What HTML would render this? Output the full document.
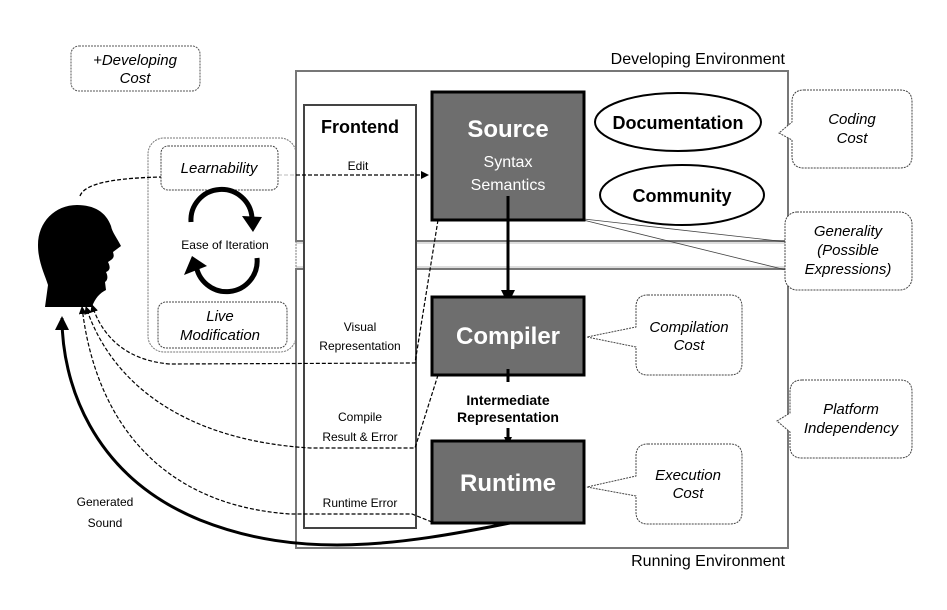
<!DOCTYPE html>
<html><head><meta charset="utf-8"><style>
body{margin:0;background:#fff}
svg{display:block}
text{font-family:"Liberation Sans",sans-serif}
</style></head><body>
<svg width="947" height="610" viewBox="0 0 947 610" xmlns="http://www.w3.org/2000/svg">
<defs>
<marker id="ah" markerWidth="8" markerHeight="8" refX="7" refY="4" orient="auto" markerUnits="userSpaceOnUse"><path d="M0,0 L8,4 L0,8z" fill="#000"/></marker>
<marker id="ahb" markerWidth="14" markerHeight="14" refX="12" refY="7" orient="auto" markerUnits="userSpaceOnUse"><path d="M0,0 L14,7 L0,14z" fill="#000"/></marker>
</defs>
<!-- environment boxes -->
<rect x="296" y="71" width="492" height="170" fill="none" stroke="#777" stroke-width="2"/>
<line x1="296" y1="243" x2="788" y2="243" stroke="#ddd" stroke-width="2"/>
<rect x="296" y="269" width="492" height="279" fill="none" stroke="#777" stroke-width="2"/>
<line x1="296" y1="267" x2="788" y2="267" stroke="#ddd" stroke-width="2"/>
<text x="785" y="64" font-size="16" text-anchor="end">Developing Environment</text>
<text x="785" y="566" font-size="16" text-anchor="end">Running Environment</text>

<!-- developing cost -->
<rect x="71" y="46" width="129" height="45" rx="8" fill="none" stroke="#555" stroke-dasharray="2,1"/>
<text x="135" y="65" font-size="15" font-style="italic" text-anchor="middle">+Developing</text>
<text x="135" y="83" font-size="15" font-style="italic" text-anchor="middle">Cost</text>

<!-- left group -->
<rect x="148" y="138" width="148" height="214" rx="16" fill="none" stroke="#777" stroke-dasharray="2,1"/>
<rect x="161" y="146" width="117" height="44" rx="7" fill="#fff" stroke="#444" stroke-dasharray="2,1"/>
<text x="219" y="173" font-size="15" font-style="italic" text-anchor="middle">Learnability</text>
<rect x="158" y="302" width="129" height="46" rx="8" fill="#fff" stroke="#444" stroke-dasharray="2,1"/>
<text x="220" y="321" font-size="15" font-style="italic" text-anchor="middle">Live</text>
<text x="220" y="340" font-size="15" font-style="italic" text-anchor="middle">Modification</text>
<text x="225" y="249" font-size="12" text-anchor="middle">Ease of Iteration</text>
<path d="M191,222 A30,30 0 0 1 252,218" fill="none" stroke="#000" stroke-width="5"/>
<path d="M242,216 L262,217 L253,232z" fill="#000"/>
<path d="M257,258 A30,30 0 0 1 196,264" fill="none" stroke="#000" stroke-width="5"/>
<path d="M184,275 L192,256 L207,266z" fill="#000"/>

<!-- head -->
<path d="M77,205 C55,205 38,222 38,245 C38,262 45,275 48,285 L45,307 L92,307 C95,298 100,293 106,290 L105,282 C108,280 108,276 106,272 C111,270 110,266 108,262 C115,258 114,256 113,252 L121,246 C117,238 112,232 111,226 C106,212 94,205 77,205z" fill="#000"/>

<!-- frontend -->
<rect x="304" y="105" width="112" height="423" fill="#fff" stroke="#444" stroke-width="2"/>
<text x="360" y="133" font-size="18" font-weight="bold" text-anchor="middle">Frontend</text>
<text x="358" y="170" font-size="12" text-anchor="middle">Edit</text>
<text x="360" y="331" font-size="12" text-anchor="middle">Visual</text>
<text x="360" y="350" font-size="12" text-anchor="middle">Representation</text>
<text x="360" y="421" font-size="12" text-anchor="middle">Compile</text>
<text x="360" y="441" font-size="12" text-anchor="middle">Result &amp; Error</text>
<text x="360" y="507" font-size="12" text-anchor="middle">Runtime Error</text>

<!-- edit connector -->
<path d="M80,196 C85,182 120,178 161,177" fill="none" stroke="#000" stroke-dasharray="4,2" stroke-width="1.3"/>
<line x1="278" y1="175" x2="296" y2="175" stroke="#bbb" stroke-dasharray="4,2"/>
<line x1="296" y1="175" x2="428" y2="175" stroke="#000" stroke-dasharray="4,2" stroke-width="1.3" marker-end="url(#ah)"/>

<!-- feedback connectors -->
<path d="M438,220 L415,363 L170,364 C120,360 100,330 92,305" fill="none" stroke="#000" stroke-dasharray="4,2" stroke-width="1.2" marker-end="url(#ah)"/>
<path d="M438,375 L415,448 L310,448 C180,440 110,380 86,307" fill="none" stroke="#000" stroke-dasharray="4,2" stroke-width="1.2" marker-end="url(#ah)"/>
<path d="M432,522 L412,514 L290,514 C160,505 95,420 82,307" fill="none" stroke="#000" stroke-dasharray="4,2" stroke-width="1.2" marker-end="url(#ah)"/>
<path d="M510,523 C400,545 300,560 200,520 C90,475 62,380 62,318" fill="none" stroke="#000" stroke-width="3" marker-end="url(#ahb)"/>
<text x="105" y="506" font-size="12" text-anchor="middle">Generated</text>
<text x="105" y="527" font-size="12" text-anchor="middle">Sound</text>

<!-- generality tails -->
<path d="M575,218 L787,242 M575,218 L786,270" stroke="#444" stroke-width="0.8" fill="none"/>

<!-- source -->
<rect x="432" y="92" width="152" height="128" fill="#6e6e6e" stroke="#000" stroke-width="3"/>
<text x="508" y="137" font-size="24" font-weight="bold" fill="#fff" text-anchor="middle">Source</text>
<text x="508" y="167" font-size="16" fill="#fff" text-anchor="middle">Syntax</text>
<text x="508" y="190" font-size="16" fill="#fff" text-anchor="middle">Semantics</text>
<line x1="508" y1="196" x2="508" y2="302" stroke="#000" stroke-width="3" marker-end="url(#ahb)"/>

<!-- compiler -->
<rect x="432" y="297" width="152" height="78" fill="#6e6e6e" stroke="#000" stroke-width="3"/>
<text x="508" y="344" font-size="24" font-weight="bold" fill="#fff" text-anchor="middle">Compiler</text>
<line x1="508" y1="369" x2="508" y2="382" stroke="#000" stroke-width="3"/>
<text x="508" y="405" font-size="14" font-weight="bold" text-anchor="middle">Intermediate</text>
<text x="508" y="422" font-size="14" font-weight="bold" text-anchor="middle">Representation</text>
<line x1="508" y1="428" x2="508" y2="444" stroke="#000" stroke-width="3" marker-end="url(#ah)"/>

<!-- runtime -->
<rect x="432" y="441" width="152" height="82" fill="#6e6e6e" stroke="#000" stroke-width="3"/>
<text x="508" y="491" font-size="24" font-weight="bold" fill="#fff" text-anchor="middle">Runtime</text>

<!-- ellipses -->
<ellipse cx="678" cy="122" rx="83" ry="29" fill="#fff" stroke="#000" stroke-width="2"/>
<text x="678" y="129" font-size="18" font-weight="bold" text-anchor="middle">Documentation</text>
<ellipse cx="682" cy="195" rx="82" ry="30" fill="#fff" stroke="#000" stroke-width="2"/>
<text x="682" y="202" font-size="18" font-weight="bold" text-anchor="middle">Community</text>

<!-- bubbles -->
<g fill="#fff" stroke="#444" stroke-dasharray="2,1" stroke-width="1">
<path d="M804,90 H900 Q912,90 912,102 V156 Q912,168 900,168 H804 Q792,168 792,156 V140 L779,133 L792,122 V102 Q792,90 804,90z"/>
<rect x="785" y="212" width="127" height="78" rx="12"/>
<path d="M648,295 H730 Q742,295 742,307 V363 Q742,375 730,375 H648 Q636,375 636,363 V347 L587,337 L636,327 V307 Q636,295 648,295z"/>
<path d="M802,380 H900 Q912,380 912,392 V446 Q912,458 900,458 H802 Q790,458 790,446 V432 L777,421 L790,413 V392 Q790,380 802,380z"/>
<path d="M648,444 H730 Q742,444 742,456 V512 Q742,524 730,524 H648 Q636,524 636,512 V496 L587,487 L636,476 V456 Q636,444 648,444z"/>
</g>
<g font-size="15" font-style="italic" text-anchor="middle">
<text x="852" y="124">Coding</text><text x="852" y="143">Cost</text>
<text x="848" y="236">Generality</text><text x="848" y="255">(Possible</text><text x="848" y="274">Expressions)</text>
<text x="689" y="332">Compilation</text><text x="689" y="350">Cost</text>
<text x="851" y="414">Platform</text><text x="851" y="433">Independency</text>
<text x="688" y="480">Execution</text><text x="688" y="498">Cost</text>
</g>
</svg>
</body></html>
